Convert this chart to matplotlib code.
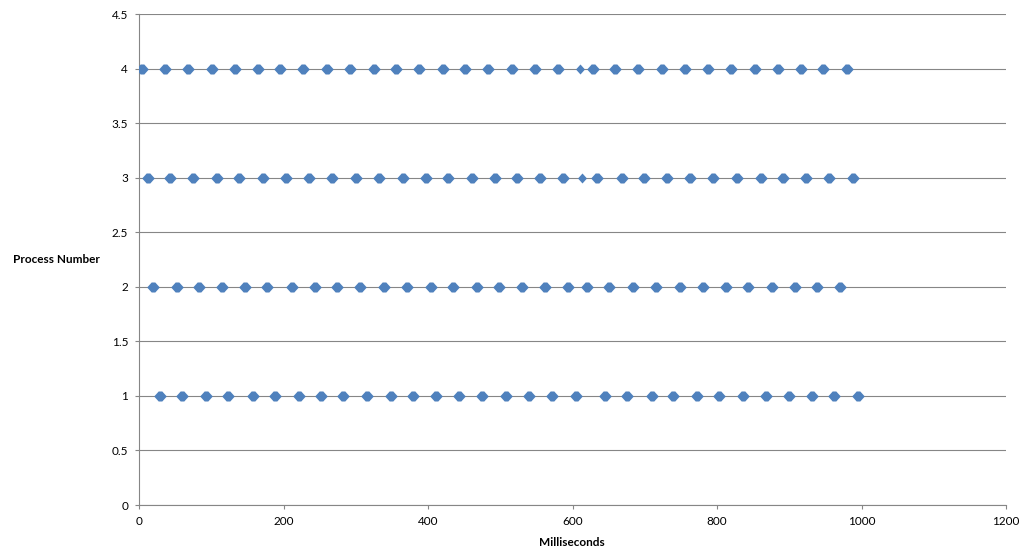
import matplotlib
matplotlib.use("Agg")
import matplotlib.pyplot as plt
from matplotlib.ticker import FuncFormatter, MultipleLocator

# ---- data (milliseconds at which each process was observed) ----
process_numbers = [1, 2, 3, 4]

p1_times = [28.8, 58.8, 92.5, 123.3, 157.1, 188.0, 221.6, 251.2, 282.5, 315.7,
            348.1, 379.4, 410.8, 443.0, 474.0, 507.7, 539.9, 570.9, 604.6, 644.7,
            675.6, 709.3, 739.2, 772.5, 802.9, 836.1, 867.5, 899.8, 930.8, 961.7,
            995.3]
p2_times = [18.7, 51.9, 83.2, 114.2, 146.4, 177.3, 211.1, 243.3, 274.2, 305.6,
            338.8, 371.1, 403.5, 434.7, 467.9, 498.4, 529.4, 561.7, 593.9, 619.4,
            650.7, 683.9, 715.3, 748.5, 779.9, 812.2, 843.0, 875.4, 907.7, 938.5,
            970.0]
p3_times = [12.6, 42.6, 74.0, 107.3, 138.5, 171.8, 203.2, 235.4, 266.4, 300.1,
            332.3, 364.7, 397.0, 427.8, 460.2, 492.5, 523.3, 554.7, 586.2, 634.0,
            667.8, 698.7, 730.9, 762.3, 794.6, 827.8, 860.2, 891.5, 922.9, 955.2,
            987.5]
p4_times = [3.5, 35.7, 68.0, 100.3, 132.6, 164.0, 194.9, 227.1, 260.3, 291.8,
            325.0, 355.4, 387.7, 420.0, 450.9, 483.2, 515.6, 547.8, 580.1, 627.7,
            658.6, 690.8, 723.2, 755.4, 787.7, 818.7, 852.3, 883.7, 915.9, 946.9,
            979.2]
# isolated single samples
single_times = [612.5, 610.1]
single_procs = [3, 4]

x_ticks = [0, 200, 400, 600, 800, 1000, 1200]
x_label = "Milliseconds"
y_label = "Process Number"

# ---- style ----
BLUE = "#4F81BD"
GRID = "#868686"
plt.rcParams['font.family'] = ['Lato', 'DejaVu Sans']

# blob marker (two overlapping diamonds) and single diamond
blob = [(-6.3, 0), (-1.8, 5), (1.8, 5), (6.3, 0), (1.8, -5), (-1.8, -5), (-6.3, 0)]
diamond = [(-4.5, 0), (0, 5), (4.5, 0), (0, -5), (-4.5, 0)]

fig = plt.figure(figsize=(10.21, 5.59), dpi=100)
ax = fig.add_axes([139.2 / 1021, 1 - 505 / 559, (1006 - 139.2) / 1021, (505 - 14) / 559])

series = [p1_times, p2_times, p3_times, p4_times]
for proc, times in zip(process_numbers, series):
    ax.plot(times, [proc] * len(times), linestyle="none", marker=blob,
            markersize=9.1, color=BLUE, markeredgewidth=0, zorder=3)
ax.plot(single_times, single_procs, linestyle="none", marker=diamond,
        markersize=7.2, color=BLUE, markeredgewidth=0, zorder=3)

ax.set_xlim(0, 1200)
ax.set_ylim(0, 4.5)
ax.set_xticks(x_ticks)
ax.yaxis.set_major_locator(MultipleLocator(0.5))
ax.yaxis.set_major_formatter(FuncFormatter(lambda v, p: f"{v:g}"))

ax.grid(axis="y", color=GRID, linewidth=0.8, zorder=1)
ax.grid(axis="x", visible=False)
ax.set_axisbelow(True)
for s in ["top", "right"]:
    ax.spines[s].set_visible(False)
for s in ["left", "bottom"]:
    ax.spines[s].set_color(GRID)
    ax.spines[s].set_linewidth(0.8)

ax.tick_params(axis="both", direction="out", length=3, width=0.8, color=GRID,
               labelsize=8.5, labelcolor="black")
ax.tick_params(axis="y", pad=5)
ax.tick_params(axis="x", pad=5)

fig.text(572 / 1021, 1 - 543 / 559, x_label, ha="center", va="center",
         fontsize=8.5, fontweight="bold")
fig.text(13 / 1021, 1 - 260 / 559, y_label, ha="left", va="center",
         fontsize=8.5, fontweight="bold")

fig.savefig("out.png", dpi=100, facecolor="white")
